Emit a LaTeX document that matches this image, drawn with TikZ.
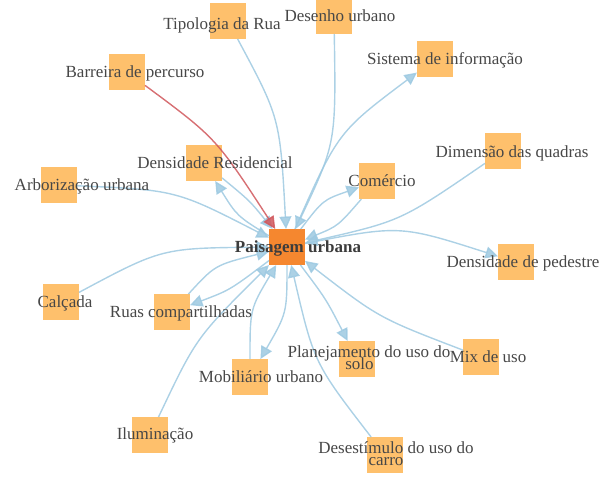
\documentclass[tikz,border=0pt]{standalone}
\usepackage{fontspec}
\setmainfont{Liberation Serif}
\usetikzlibrary{arrows.meta}

\definecolor{leaf}{HTML}{FEC06C}
\definecolor{hub}{HTML}{F5872F}
\definecolor{link}{HTML}{9DC9E1}
\definecolor{barrier}{HTML}{D0575C}
\definecolor{ink}{HTML}{474747}

\tikzset{
  sq/.style={minimum size=36pt, inner sep=0pt, outer sep=0pt, fill=leaf, draw=none},
  hubsq/.style={sq, fill=hub},
  lbl/.style={anchor=base, inner sep=0pt, text=ink, font=\fontsize{17}{17}\selectfont},
  hublbl/.style={lbl, text=ink!85!black, font=\fontsize{17}{17}\selectfont\bfseries},
  edge/.style={draw=link, line width=1.4pt, opacity=0.85,
    -{Triangle[length=12.5pt,width=12pt]}},
  redge/.style={edge, draw=barrier}
}

\begin{document}
\begin{tikzpicture}[x=1pt, y=-1pt]
\useasboundingbox (0,0) rectangle (614,499);

% squares
\node[hubsq] (P)    at (287,247) {};
\node[sq]    (Tip)  at (228,21)  {};
\node[sq]    (Des)  at (334,16)  {};
\node[sq]    (Bar)  at (127,72)  {};
\node[sq]    (Sis)  at (435,59)  {};
\node[sq]    (DRes) at (204,163) {};
\node[sq]    (Arb)  at (59,185)  {};
\node[sq]    (Dim)  at (503,151) {};
\node[sq]    (Com)  at (377,181) {};
\node[sq]    (DPed) at (516,262) {};
\node[sq]    (Calc) at (61,302)  {};
\node[sq]    (Ruas) at (172,312) {};
\node[sq]    (Mix)  at (481,357) {};
\node[sq]    (Plan) at (357,359) {};
\node[sq]    (Mob)  at (250,377) {};
\node[sq]    (Ilu)  at (150,435) {};
\node[sq]    (Dest) at (385,455) {};

% connectors
\draw[edge]  (Tip)  .. controls (280,118) .. (P);
\draw[edge]  (Des)  .. controls (336,143) .. (P);
\draw[edge]  (P)    .. controls (338,132) .. (Sis);
\draw[edge]  (Dim)  .. controls (401,221) .. (P);
\draw[edge]  (P)    .. controls (323,200) .. (Com);
\draw[edge]  (Com)  .. controls (338,226) .. (P);
\draw[edge]  (P)    .. controls (400,225) .. (DPed);
\draw[edge]  (Mix)  .. controls (379,318) .. (P);
\draw[edge]  (P)    .. controls (326,299) .. (Plan);
\draw[edge]  (Dest) .. controls (314,363) .. (P);
\draw[edge]  (Mob)  .. controls (250,309) .. (P);
\draw[edge]  (P)    .. controls (287,313) .. (Mob);
\draw[edge]  (Ilu)  .. controls (196,338) .. (P);
\draw[edge]  (P)    .. controls (230,290) .. (Ruas);
\draw[edge]  (Ruas) .. controls (215,265) .. (P);
\draw[edge]  (Calc) .. controls (162,248) .. (P);
\draw[edge]  (Arb)  .. controls (176,190) .. (P);
\draw[edge]  (DRes) .. controls (250,201) .. (P);
\draw[edge]  (P)    .. controls (237,216) .. (DRes);
\draw[redge] (Bar)  .. controls (216,138) .. (P);

% labels
\node[hublbl] (lP)    at (298,252) {Paisagem urbana};
\node[lbl]    (lTip)  at (222,29)  {Tipologia da Rua};
\node[lbl]    (lDes)  at (340,21)  {Desenho urbano};
\node[lbl]    (lBar)  at (135,77)  {Barreira de percurso};
\node[lbl]    (lSis)  at (445,64)  {Sistema de informação};
\node[lbl]    (lDRes) at (215,168) {Densidade Residencial};
\node[lbl]    (lArb)  at (82,190)  {Arborização urbana};
\node[lbl]    (lDim)  at (512,157) {Dimensão das quadras};
\node[lbl]    (lCom)  at (382,186) {Comércio};
\node[lbl]    (lDPed) at (523,267) {Densidade de pedestre};
\node[lbl]    (lCalc) at (65,307)  {Calçada};
\node[lbl]    (lRuas) at (181,317) {Ruas compartilhadas};
\node[lbl]    (lMix)  at (488,362) {Mix de uso};
\node[lbl]    (lPlanA) at (369,357) {Planejamento do uso do};
\node[lbl]    (lPlanB) at (359.5,369) {solo};
\node[lbl]    (lMob)  at (261,382) {Mobiliário urbano};
\node[lbl]    (lIlu)  at (155,439) {Iluminação};
\node[lbl]    (lDestA) at (396,453) {Desestímulo do uso do};
\node[lbl]    (lDestB) at (386,465) {carro};
\end{tikzpicture}
\end{document}
